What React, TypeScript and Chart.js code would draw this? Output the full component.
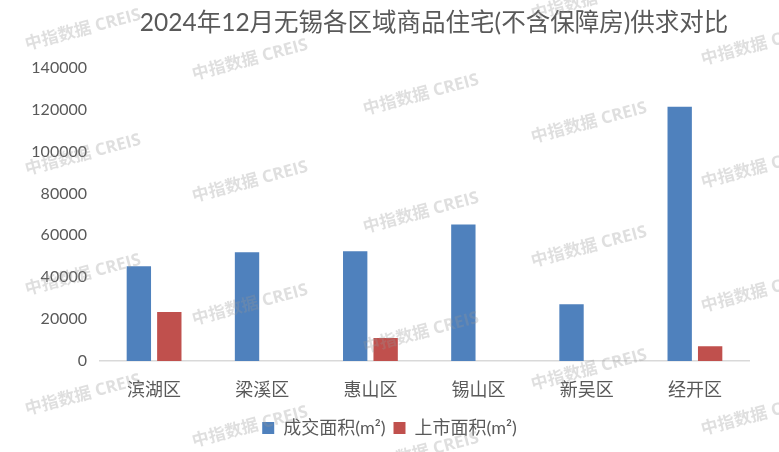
import React, { useEffect, useRef } from "react";
import { Chart, registerables } from "chart.js";

Chart.register(...registerables);

const categories = ["滨湖区", "梁溪区", "惠山区", "锡山区", "新吴区", "经开区"];
const dealArea = [45200, 51900, 52400, 65200, 27100, 121400];
const supplyArea = [23400, null, 11000, null, null, 7100];
const seriesNames = ["成交面积(m²)", "上市面积(m²)"];
const titleText = "2024年12月无锡各区域商品住宅(不含保障房)供求对比";
const watermarkText = "中指数据 CREIS";

const GRAY = "#595959";
const FONT = "Lato, 'Noto Sans CJK SC', sans-serif";

const titlePlugin = {
  id: "customTitle",
  afterDraw(chart: any) {
    const ctx = chart.ctx;
    ctx.save();
    ctx.font = `24.5px ${FONT}`;
    ctx.fillStyle = GRAY;
    ctx.textAlign = "center";
    ctx.textBaseline = "middle";
    ctx.fillText(titleText, 434, 23);
    ctx.restore();
  },
};

const watermarkPlugin = {
  id: "watermark",
  afterDraw(chart: any) {
    const ctx = chart.ctx;
    const spots: [number, number][] = [
      [83, 30], [83, 155], [83, 275], [83, 395],
      [250, 60], [250, 182], [250, 305], [250, 427],
      [421, 95], [421, 213], [421, 333], [421, 453],
      [589, 0], [589, 123], [589, 247], [589, 370],
      [759, 45], [759, 168], [759, 292], [759, 415],
    ];
    ctx.save();
    ctx.font = "bold 17px 'Open Sans', 'Noto Sans CJK SC', sans-serif";
    ctx.fillStyle = "rgba(150,150,150,0.3)";
    ctx.textAlign = "center";
    ctx.textBaseline = "middle";
    for (const [x, y] of spots) {
      ctx.save();
      ctx.translate(x, y);
      ctx.rotate((-15 * Math.PI) / 180);
      ctx.fillText(watermarkText, 0, 0);
      ctx.restore();
    }
    ctx.restore();
  },
};

export default function App() {
  const ref = useRef<HTMLCanvasElement | null>(null);
  useEffect(() => {
    if (!ref.current) return;
    const chart = new Chart(ref.current, {
      type: "bar",
      data: {
        labels: categories,
        datasets: [
          {
            label: seriesNames[0],
            data: dealArea,
            backgroundColor: "#4F81BD",
            categoryPercentage: 0.563,
            barPercentage: 0.8,
          },
          {
            label: seriesNames[1],
            data: supplyArea as any,
            backgroundColor: "#C0504D",
            categoryPercentage: 0.563,
            barPercentage: 0.8,
          },
        ],
      },
      options: {
        responsive: false,
        animation: false,
        layout: { padding: { left: 0, right: 0, top: 0, bottom: 5 } },
        scales: {
          x: {
            grid: { display: false },
            border: { display: true, color: "#D9D9D9", width: 1.5 },
            ticks: { color: GRAY, font: { family: FONT, size: 18 }, padding: 10 },
            afterFit: (s: any) => { s.height = 50; },
          },
          y: {
            min: 0,
            max: 140000,
            grid: { display: false, drawTicks: false },
            border: { display: false },
            ticks: {
              stepSize: 20000,
              color: GRAY,
              font: { family: FONT, size: 16 },
              padding: 13,
              callback: (v: any) => String(v),
            },
            afterFit: (s: any) => { s.width = 100; },
          },
          yRightSpace: {
            type: "linear",
            position: "right",
            display: true,
            grid: { display: false, drawTicks: false },
            border: { display: false },
            ticks: { display: false },
            afterFit: (s: any) => { s.width = 30; },
          },
        },
        plugins: {
          title: {
            display: true,
            text: titleText,
            color: "rgba(0,0,0,0)",
            fullSize: false,
            font: { family: FONT, size: 24, weight: "normal" },
            padding: { top: 8, bottom: 31 },
          },
          legend: {
            position: "bottom",
            labels: {
              color: GRAY,
              font: { family: FONT, size: 18 },
              boxWidth: 12,
              boxHeight: 12,
              padding: 8,
            },
          },
          tooltip: { enabled: false },
        },
      },
      plugins: [titlePlugin, watermarkPlugin],
    });
    return () => chart.destroy();
  }, []);
  return (
    <div style={{ position: "fixed", left: 0, top: 0, width: 779, height: 452, background: "#fff" }}>
      <canvas ref={ref} width={779} height={452} style={{ display: "block" }} />
    </div>
  );
}
